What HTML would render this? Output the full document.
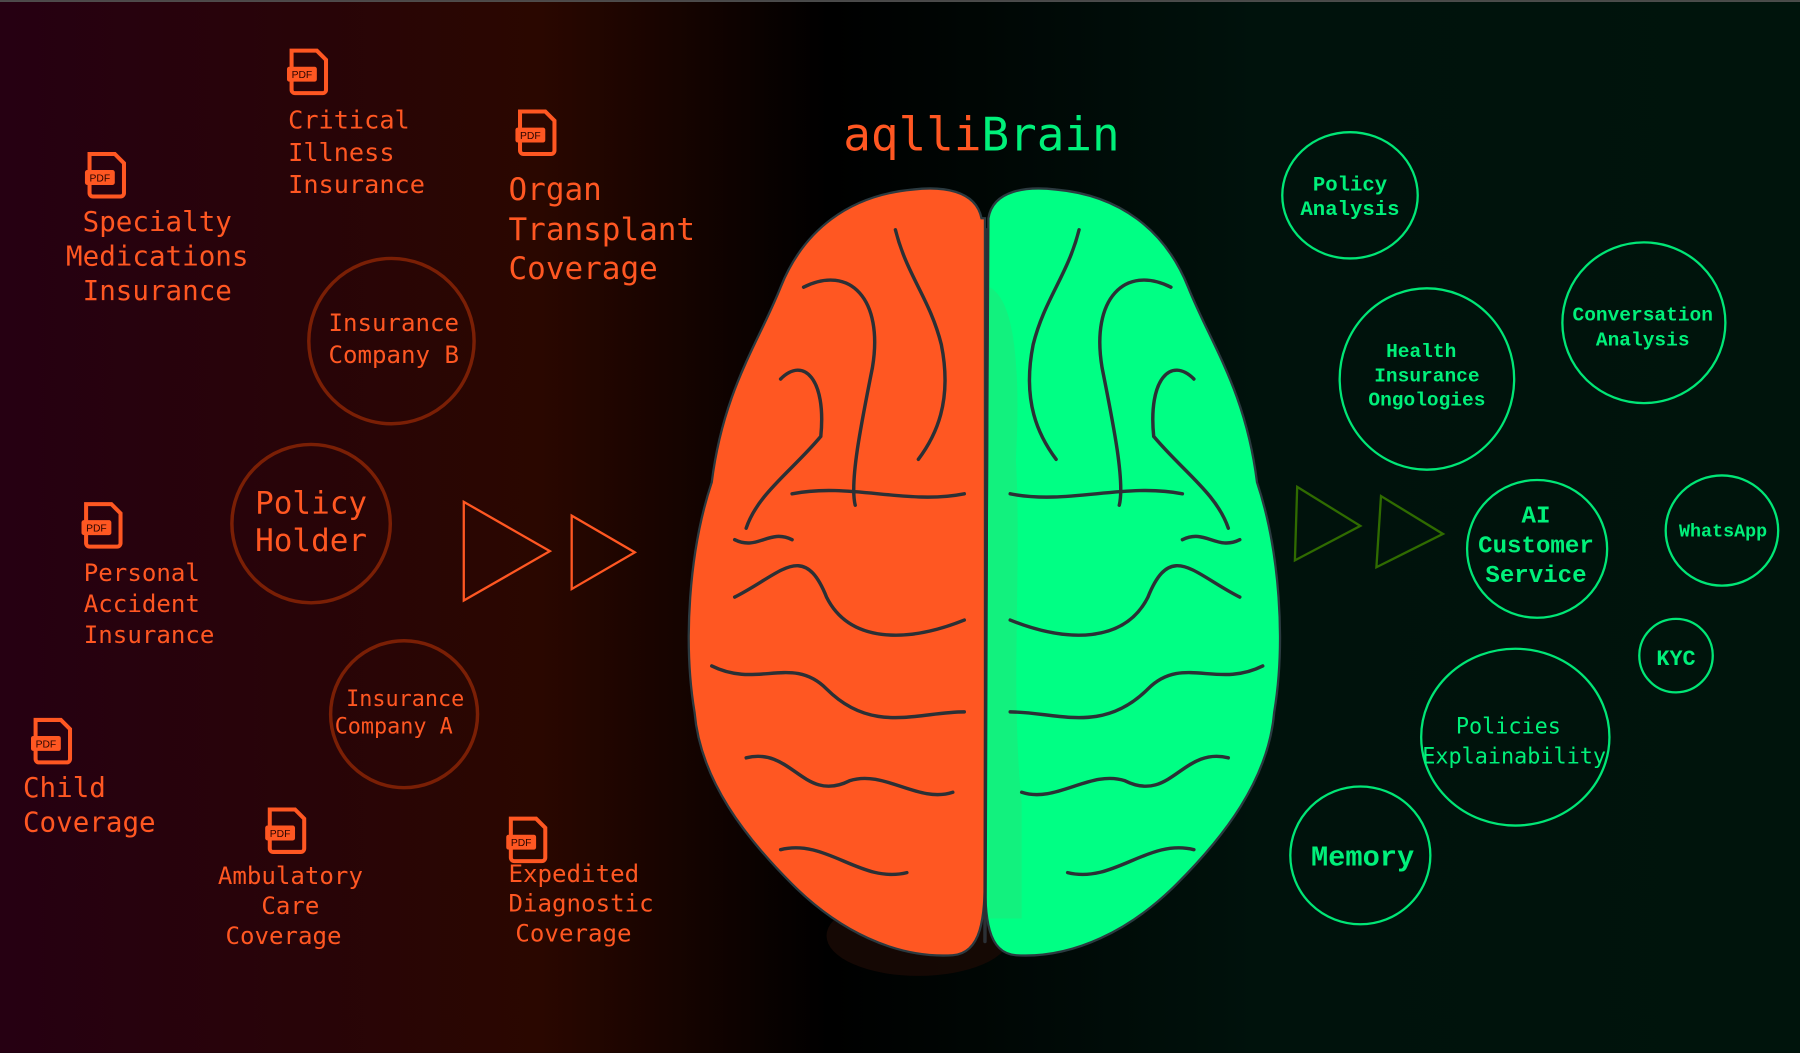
<!DOCTYPE html>
<html><head><meta charset="utf-8"><style>
html,body{margin:0;padding:0;background:#000;}
svg{display:block}
.o{fill:#ff5722;font-family:"DejaVu Sans Mono","Liberation Mono",monospace;}
.g{fill:#00f07a;font-family:"Liberation Mono","DejaVu Sans Mono",monospace;font-weight:bold;}
</style></head><body>
<svg width="1800" height="1053" viewBox="0 0 1568 917" xmlns="http://www.w3.org/2000/svg">
<defs>
<linearGradient id="bg" x1="0" x2="1" y1="0" y2="0">
<stop offset="0" stop-color="#260012"/>
<stop offset="0.3" stop-color="#2a0700"/>
<stop offset="0.46" stop-color="#000000"/>
<stop offset="0.7" stop-color="#00120c"/>
<stop offset="1" stop-color="#00140c"/>
</linearGradient>
<g id="pdf"><path d="M0 0 h22 l8 8 v26 a3 3 0 0 1 -3 3 h-24 a3 3 0 0 1 -3 -3 z" fill="none" stroke="#ff5722" stroke-width="3.5" transform="translate(2,2)"/><rect x="-2" y="16" width="26" height="13" rx="2" fill="#ff5722"/><text x="11" y="26" font-size="9" text-anchor="middle" fill="#2a0500" font-family="Liberation Sans,sans-serif">PDF</text></g>
</defs>
<rect width="1568" height="917" fill="url(#bg)"/>
<rect width="1568" height="1.5" fill="#555"/>

<!-- left labels -->
<use href="#pdf" x="252" y="42"/>
<text class="o" font-size="22"><tspan x="251" y="112">Critical</tspan><tspan x="251" y="140">Illness</tspan><tspan x="251" y="168">Insurance</tspan></text>
<use href="#pdf" x="76" y="132"/>
<text class="o" font-size="24" text-anchor="middle"><tspan x="137" y="201">Specialty</tspan><tspan x="137" y="231">Medications</tspan><tspan x="137" y="261">Insurance</tspan></text>
<use href="#pdf" x="451" y="95"/>
<text class="o" font-size="27"><tspan x="443" y="174">Organ</tspan><tspan x="443" y="209">Transplant</tspan><tspan x="443" y="243">Coverage</tspan></text>
<use href="#pdf" x="73" y="437"/>
<text class="o" font-size="21"><tspan x="73" y="506">Personal</tspan><tspan x="73" y="533">Accident</tspan><tspan x="73" y="560">Insurance</tspan></text>
<use href="#pdf" x="29" y="625"/>
<text class="o" font-size="24"><tspan x="20" y="694">Child</tspan><tspan x="20" y="724">Coverage</tspan></text>
<use href="#pdf" x="233" y="703"/>
<text class="o" font-size="21" text-anchor="middle"><tspan x="253" y="770">Ambulatory</tspan><tspan x="253" y="796">Care</tspan><tspan x="247" y="822">Coverage</tspan></text>
<use href="#pdf" x="443" y="711"/>
<text class="o" font-size="21"><tspan x="443" y="768">Expedited</tspan><tspan x="443" y="794">Diagnostic</tspan><tspan x="449" y="820">Coverage</tspan></text>

<g fill="none" stroke="#7a1f05" stroke-width="3">
<circle cx="341" cy="297" r="72"/>
<circle cx="271" cy="456" r="69"/>
<circle cx="352" cy="622" r="64"/>
</g>
<text class="o" font-size="21" text-anchor="middle"><tspan x="343" y="288">Insurance</tspan><tspan x="343" y="316">Company B</tspan></text>
<text class="o" font-size="27" text-anchor="middle"><tspan x="271" y="447">Policy</tspan><tspan x="271" y="480">Holder</tspan></text>
<text class="o" font-size="19" text-anchor="middle"><tspan x="353" y="615">Insurance</tspan><tspan x="343" y="639">Company A</tspan></text>
<g fill="none" stroke="#ff5722" stroke-width="2">
<polygon points="404,437 479,480 404,523"/>
<polygon points="498,449 553,481 498,513"/>
</g>

<!-- title -->
<text x="855" y="131" font-size="40" text-anchor="middle" font-family="DejaVu Sans Mono,monospace"><tspan fill="#ff5722">aqlli</tspan><tspan fill="#00f07a">Brain</tspan></text>

<!-- brain -->
<ellipse cx="800" cy="815" rx="80" ry="35" fill="#1a0a05" opacity="0.8"/>
<path d="M855 190 C850 165 820 162 795 165 C740 170 700 200 680 250 C660 300 630 340 620 420 C600 480 595 560 605 620 C610 680 650 730 690 770 C730 810 780 835 830 832 C855 830 858 800 858 760 L858 190 Z" fill="#ff5722" stroke="#2b3a40" stroke-width="2"/>
<path d="M861 190 C865 165 895 162 920 165 C975 170 1015 200 1035 250 C1055 300 1085 340 1095 420 C1115 480 1120 560 1110 620 C1105 680 1065 730 1025 770 C985 810 935 835 885 832 C860 830 858 800 858 760 L861 190 Z" fill="#00ff84" stroke="#2b3a40" stroke-width="2"/>
<path d="M862 250 C880 260 890 300 885 400 C890 500 880 600 890 700 L890 800 L862 800 Z" fill="#1ee87a" opacity="0.6"/>
<g fill="none" stroke="#2b3035" stroke-width="3" stroke-linecap="round">
<path d="M860 200 L858 820"/>
<path d="M700 250 C740 230 770 260 760 320 C750 370 740 420 745 440"/>
<path d="M680 330 C700 310 720 330 715 380 C690 410 660 430 650 460"/>
<path d="M690 430 C740 420 790 440 840 430"/>
<path d="M640 520 C680 500 700 470 720 520 C740 560 790 560 840 540"/>
<path d="M620 580 C660 600 690 570 720 600 C760 640 800 620 840 620"/>
<path d="M650 660 C690 650 700 700 740 680 C770 670 800 700 830 690"/>
<path d="M680 740 C720 730 750 770 790 760"/>
<path d="M780 200 C790 240 810 260 820 300 C830 350 815 380 800 400"/>
<path d="M640 470 C660 480 670 460 690 470"/>
<path d="M1020 250 C980 230 950 260 960 320 C970 370 980 420 975 440"/>
<path d="M1040 330 C1020 310 1000 330 1005 380 C1030 410 1060 430 1070 460"/>
<path d="M1030 430 C980 420 930 440 880 430"/>
<path d="M1080 520 C1040 500 1020 470 1000 520 C980 560 930 560 880 540"/>
<path d="M1100 580 C1060 600 1030 570 1000 600 C960 640 920 620 880 620"/>
<path d="M1070 660 C1030 650 1020 700 980 680 C950 670 920 700 890 690"/>
<path d="M1040 740 C1000 730 970 770 930 760"/>
<path d="M940 200 C930 240 910 260 900 300 C890 350 905 380 920 400"/>
<path d="M1080 470 C1060 480 1050 460 1030 470"/>
</g>

<!-- right side -->
<g fill="none" stroke="#2f6b00" stroke-width="2">
<polygon points="1130,424 1185,458 1128,488"/>
<polygon points="1203,432 1257,465 1199,494"/>
</g>
<g fill="none" stroke="#00e676" stroke-width="2">
<ellipse cx="1176" cy="170" rx="59" ry="55"/>
<ellipse cx="1432" cy="281" rx="71" ry="70"/>
<ellipse cx="1243" cy="330" rx="76" ry="79"/>
<ellipse cx="1339" cy="478" rx="61" ry="60"/>
<ellipse cx="1500" cy="462" rx="49" ry="48"/>
<ellipse cx="1460" cy="571" rx="32" ry="32"/>
<ellipse cx="1320" cy="642" rx="82" ry="77"/>
<ellipse cx="1185" cy="745" rx="61" ry="60"/>
</g>
<text class="g" font-size="18" text-anchor="middle"><tspan x="1176" y="166">Policy</tspan><tspan x="1176" y="187">Analysis</tspan></text>
<text class="g" font-size="17" text-anchor="middle"><tspan x="1431" y="279">Conversation</tspan><tspan x="1431" y="301">Analysis</tspan></text>
<text class="g" font-size="17" text-anchor="middle"><tspan x="1238" y="311">Health</tspan><tspan x="1243" y="332">Insurance</tspan><tspan x="1243" y="353">Ongologies</tspan></text>
<text class="g" font-size="21" text-anchor="middle"><tspan x="1338" y="455">AI</tspan><tspan x="1338" y="481">Customer</tspan><tspan x="1338" y="507">Service</tspan></text>
<text class="g" font-size="16" text-anchor="middle" x="1501" y="467">WhatsApp</text>
<text class="g" font-size="19" text-anchor="middle" x="1460" y="579">KYC</text>
<text class="o" font-size="19" text-anchor="middle" style="fill:#00f07a"><tspan x="1314" y="639">Policies</tspan><tspan x="1319" y="665">Explainability</tspan></text>
<text class="g" font-size="25" text-anchor="middle" x="1187" y="754">Memory</text>
</svg>
</body></html>
